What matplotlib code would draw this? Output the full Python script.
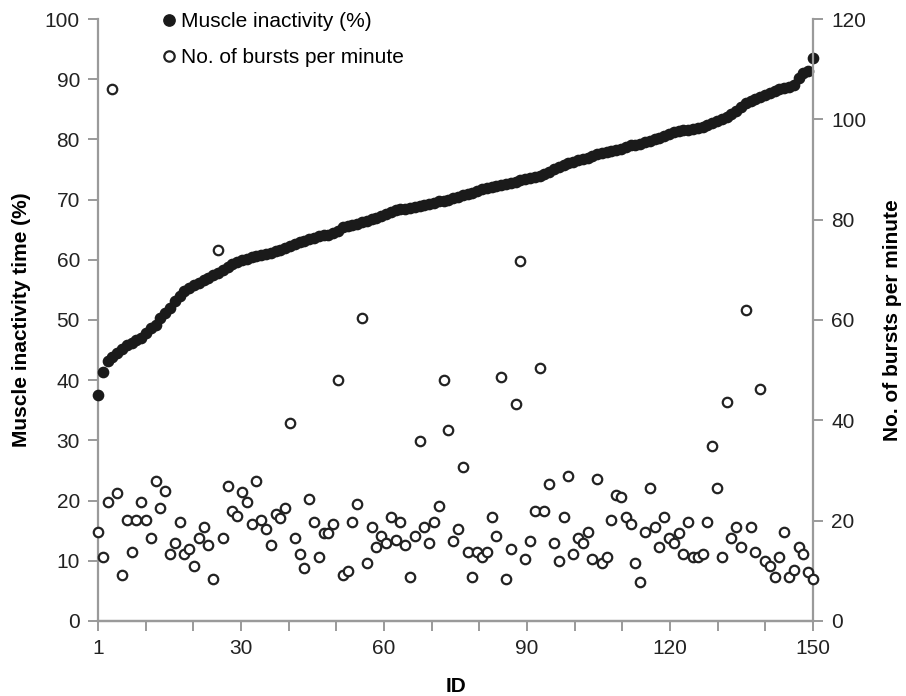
import numpy as np
import matplotlib
matplotlib.use("Agg")
import matplotlib.pyplot as plt

plt.rcParams['font.family'] = ['Liberation Sans', 'DejaVu Sans']

# ---- data ----
ids = list(range(1, 151))

inactivity = [
    37.6, 41.4, 43.2, 43.8, 44.5, 45.2, 45.8, 46.2, 46.6, 47.0,
    47.8, 48.6, 49.2, 50.3, 51.2, 52.0, 53.1, 54.0, 54.8, 55.3,
    55.8, 56.2, 56.6, 57.0, 57.4, 57.8, 58.3, 58.8, 59.3, 59.7,
    60.0, 60.2, 60.4, 60.6, 60.8, 61.0, 61.2, 61.4, 61.7, 62.0,
    62.3, 62.6, 63.0, 63.2, 63.4, 63.7, 64.0, 64.1, 64.2, 64.4,
    64.8, 65.4, 65.6, 65.8, 66.0, 66.3, 66.5, 66.7, 67.0, 67.3,
    67.6, 67.9, 68.2, 68.4, 68.5, 68.6, 68.8, 69.0, 69.1, 69.3,
    69.5, 69.7, 69.8, 70.0, 70.2, 70.5, 70.7, 70.9, 71.1, 71.4,
    71.8, 72.0, 72.1, 72.3, 72.4, 72.6, 72.8, 73.0, 73.2, 73.4,
    73.6, 73.8, 74.0, 74.3, 74.6, 75.0, 75.4, 75.8, 76.0, 76.3,
    76.5, 76.7, 76.9, 77.2, 77.5, 77.7, 77.9, 78.1, 78.2, 78.4,
    78.7, 79.0, 79.1, 79.3, 79.6, 79.8, 80.0, 80.3, 80.6, 80.9,
    81.2, 81.4, 81.5, 81.6, 81.7, 81.9, 82.1, 82.4, 82.7, 83.0,
    83.4, 83.8, 84.3, 84.8, 85.4, 86.0, 86.4, 86.7, 87.0, 87.3,
    87.7, 88.1, 88.3, 88.5, 88.7, 89.0, 90.2, 91.0, 91.3, 93.6,
]

bursts = [
    17.8, 12.8, 23.8, 106.0, 25.6, 9.2, 20.1, 13.7, 20.1, 23.8,
    20.1, 16.5, 28.0, 22.5, 26.0, 13.4, 15.6, 19.7, 13.4, 14.3,
    11.0, 16.5, 18.8, 15.1, 8.3, 74.0, 16.5, 27.0, 21.9, 21.0,
    25.7, 23.8, 19.3, 27.9, 20.1, 18.3, 15.1, 21.3, 20.6, 22.5,
    39.5, 16.5, 13.4, 10.5, 24.3, 19.7, 12.8, 17.5, 17.5, 19.3,
    48.0, 9.2, 10.0, 19.7, 23.3, 60.4, 11.5, 18.8, 14.7, 17.0,
    15.6, 20.7, 16.1, 19.7, 15.1, 8.7, 17.0, 35.9, 18.8, 15.6,
    19.7, 22.9, 48.0, 38.1, 16.0, 18.3, 30.6, 13.7, 8.7, 13.7,
    12.8, 13.7, 20.7, 17.0, 48.6, 8.3, 14.3, 43.2, 71.7, 12.4,
    16.0, 21.9, 50.4, 21.9, 27.3, 15.6, 12.0, 20.7, 28.8, 13.4,
    16.5, 15.6, 17.8, 12.4, 28.3, 11.5, 12.8, 20.1, 25.2, 24.8,
    20.8, 19.3, 11.5, 7.8, 17.8, 26.6, 18.8, 14.7, 20.7, 16.5,
    15.6, 17.5, 13.4, 19.7, 12.8, 12.8, 13.4, 19.7, 34.9, 26.6,
    12.8, 43.6, 16.5, 18.8, 14.7, 62.0, 18.8, 13.8, 46.2, 12.0,
    11.0, 8.7, 12.8, 17.8, 8.7, 10.2, 14.8, 13.4, 9.7, 8.3,
]

x_tick_labels = ['1', '', '', '30', '', '', '60', '', '', '90',
                 '', '', '120', '', '', '150']

AXIS_GREY = '#9a9a9a'

fig = plt.figure(figsize=(9.06, 6.96), dpi=100)
ax = fig.add_axes([0.1082, 0.1078, 0.7892, 0.8649])
ax2 = ax.twinx()

# muscle inactivity (left axis)
h1, = ax.plot(ids, inactivity, linestyle='none', marker='o', markersize=7.4,
              markerfacecolor='#1a1a1a', markeredgecolor='#1a1a1a',
              label='Muscle inactivity (%)', clip_on=False, zorder=3)

# bursts per minute (right axis)
h2, = ax2.plot(ids, bursts, linestyle='none', marker='o', markersize=6.8,
               markerfacecolor='white', markeredgecolor='#222222',
               markeredgewidth=1.6, label='No. of bursts per minute',
               clip_on=False, zorder=3)

ax.set_xlim(1, 150)
ax.set_ylim(0, 100)
ax2.set_ylim(0, 120)
ax.set_yticks(np.arange(0, 101, 10))
ax2.set_yticks(np.arange(0, 121, 20))
ax.set_xticks(np.linspace(1, 150, 16))
ax.set_xticklabels(x_tick_labels)

for a in (ax, ax2):
    a.spines['top'].set_visible(False)
    for s in ('left', 'right', 'bottom'):
        a.spines[s].set_color(AXIS_GREY)
        a.spines[s].set_linewidth(1.6)
    a.tick_params(colors=AXIS_GREY, labelcolor='#222222', labelsize=15,
                  width=1.4, length=7, direction='out')
ax.spines['right'].set_visible(False)
ax2.spines['left'].set_visible(False)
ax.tick_params(axis='x', pad=6)
ax.tick_params(axis='y', pad=6)
ax2.tick_params(axis='y', pad=6)

ax.set_xlabel('ID', fontsize=15, fontweight='bold', labelpad=14)
ax.set_ylabel('Muscle inactivity time (%)', fontsize=15, fontweight='bold',
              labelpad=10)
ax2.set_ylabel('No. of bursts per minute', fontsize=15, fontweight='bold',
               labelpad=12)

leg = ax.legend(handles=[h1, h2], loc='upper left',
                bbox_to_anchor=(0.079, 1.025), frameon=False, fontsize=15,
                handlelength=0.6, handletextpad=0.25, labelspacing=0.8,
                borderaxespad=0, markerscale=1.1)

fig.savefig('out.png', dpi=100)
